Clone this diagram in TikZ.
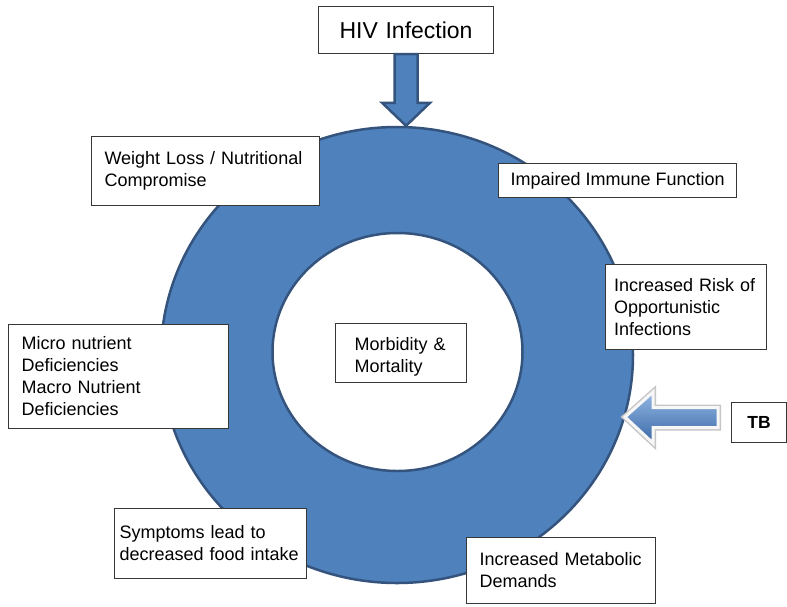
\documentclass[tikz,border=0pt]{standalone}
\usepackage{fontspec}
\setmainfont{Liberation Sans}
\usepackage{xcolor}
\usetikzlibrary{shapes.geometric}
\usetikzlibrary{calc}
\definecolor{ringblue}{RGB}{79,129,189}
\definecolor{ringedge}{RGB}{52,84,126}
\definecolor{boxedge}{RGB}{55,55,55}
\definecolor{tblight}{RGB}{146,184,228}
\definecolor{tbdark}{RGB}{58,104,166}
\newcommand{\boxfont}{\fontsize{18}{22}\selectfont}
\tikzset{
  infobox/.style={rectangle, draw=boxedge, line width=1.1pt, fill=white,
    anchor=north west, align=left, inner xsep=13pt, inner ysep=0pt, font=\boxfont},
  ringedge/.style={draw=ringedge, line width=2.5pt},
  blockarrow/.style={ringedge, fill=ringblue, line join=miter},
  tbarrow/.style={preaction={draw=gray!45, line width=6pt},
    draw=white!94!gray, line width=3pt,
    top color=tblight, middle color=ringblue, bottom color=tbdark}
}

\begin{document}
\begin{tikzpicture}[x=1pt,y=-1pt]
\useasboundingbox[fill=white] (0,0) rectangle (787,606);
\node (ring) [ellipse, ringedge, fill=ringblue, minimum width=472, minimum height=456] at (397,355) {};
\node (core) [ellipse, ringedge, fill=white, minimum width=250, minimum height=238] at (397.5,352) {};

\node (hiv) [infobox, align=center, text width=149, minimum height=47,
  font=\fontsize{23}{27}\selectfont] at (318,6) {HIV Infection};
\node (weight) [infobox, text width=202, minimum height=69] at (91,136)
  {Weight Loss / Nutritional\\Compromise\\[-12pt]};
\node (immune) [infobox, inner xsep=12pt, minimum height=34] at (498,163)
  {Impaired Immune Function};
\node (risk) [infobox, inner xsep=8.5pt, text width=144, minimum height=85] at (605,264)
  {Increased Risk of\\Opportunistic\\Infections};
\node (micro) [infobox, text width=194, minimum height=104] at (8,324)
  {Micro nutrient\\Deficiencies\\Macro Nutrient\\Deficiencies};
\node (morb) [infobox, inner xsep=19pt, text width=93, minimum height=59] at (335,323)
  {\rule{0pt}{21pt}Morbidity \&\\Mortality};
\node (symp) [infobox, inner xsep=5pt, text width=182, minimum height=70] at (114,508)
  {Symptoms lead to\\decreased food intake\\[-10pt]};
\node (meta) [infobox, text width=163, minimum height=66] at (466,537)
  {Increased Metabolic\\Demands};
\node (tb) [infobox, align=center, inner xsep=0pt, minimum width=55, minimum height=40,
  font=\fontsize{17.5}{21}\selectfont\bfseries] at (731,402) {TB};
\coordinate (tbtip) at (625,417);

\draw[blockarrow] let \p1=(hiv.south), \p2=(hiv.south |- ring.north) in
  (\x1-11.5pt,\y1) -- (\x1-11.5pt,\y2+23pt) -- (\x1-24pt,\y2+23pt) -- (\x1,\y2)
  -- (\x1+24pt,\y2+23pt) -- (\x1+11.5pt,\y2+23pt) -- (\x1+11.5pt,\y1) -- cycle;
\draw[tbarrow] let \p1=([shift={(-13,-5)}]tb.west), \p2=(tbtip) in
  (\x1,\y1+10pt) -- (\x2+28pt,\y1+10pt) -- (\x2+28pt,\y1+25.5pt) -- (\x2,\y2)
  -- (\x2+28pt,\y1-25.5pt) -- (\x2+28pt,\y1-10pt) -- (\x1,\y1-10pt) -- cycle;
\end{tikzpicture}
\end{document}
